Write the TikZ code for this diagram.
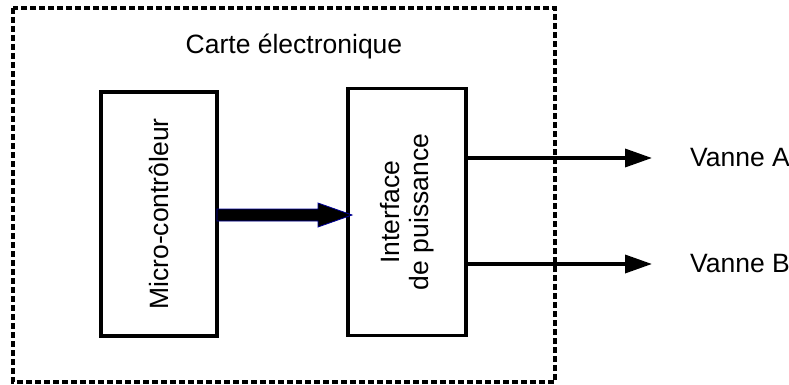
\documentclass[tikz,border=0pt]{standalone}
\usepackage{fontspec}
\setmainfont{Liberation Sans}
\usetikzlibrary{arrows.meta}
\begin{document}
\begin{tikzpicture}[x=1pt,y=-1pt,
  blk/.style={draw,line width=3.5pt,inner sep=0pt},
  lbl/.style={font=\fontsize{26.5}{29}\selectfont,align=center},
  outarrow/.style={line width=3.5pt,-{Triangle[length=27pt,width=18pt]}}]
\useasboundingbox (0,0) rectangle (789,385);
\draw[line width=3.5pt,dash pattern=on 6pt off 3pt] (13,8) rectangle (555,382);
\node[lbl] (title) at (294,46) {Carte électronique};
\node[blk,minimum width=116pt,minimum height=244pt] (mc) at (159,214) {};
\node[lbl,rotate=90] at (mc.center) {Micro-contrôleur};
\node[blk,minimum width=118pt,minimum height=247pt] (ip) at (407,212) {};
\node[lbl,rotate=90] at (ip.center) {Interface\\de puissance};
\fill[black,draw=blue!60!black,line width=0.8pt] (217,209) -- (318,209) -- (318,203) -- (352,215) -- (318,227) -- (318,221) -- (217,221) -- cycle;
\node[lbl,anchor=west,inner sep=0pt] (va) at (690,158) {Vanne A};
\node[lbl,anchor=west,inner sep=0pt] (vb) at (690,264) {Vanne B};
\coordinate (ta) at (652,158);
\coordinate (tb) at (652,264);
\draw[outarrow] (ip.east |- ta) -- (ta);
\draw[outarrow] (ip.east |- tb) -- (tb);
\end{tikzpicture}
\end{document}
